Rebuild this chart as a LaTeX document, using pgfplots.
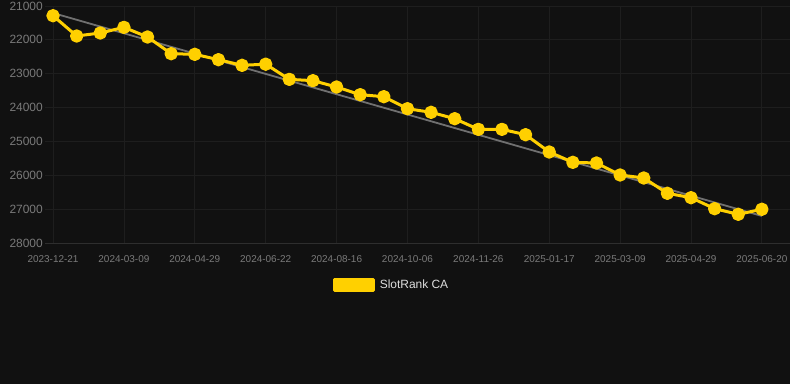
\documentclass[border=0pt]{standalone}
\usepackage{fontspec}
\setmainfont{Liberation Sans}
\usepackage{pgfplots}
\pgfplotsset{compat=1.18}
\definecolor{bg}{HTML}{111111}
\definecolor{gridc}{HTML}{1E1E1E}
\definecolor{axisc}{HTML}{2E2E2E}
\definecolor{tickc}{HTML}{7A7A7A}
\definecolor{yel}{HTML}{FFD000}
\definecolor{trend}{HTML}{707070}
\definecolor{legtext}{HTML}{DDDDDD}
\begin{document}
\begin{tikzpicture}
\fill[bg] (-45bp,-141bp) rectangle (745bp,243bp);
\useasboundingbox (-45bp,-141bp) rectangle (745bp,243bp);
\begin{axis}[
  at={(0,0)}, anchor=south west,
  scale only axis, width=745bp, height=237bp,
  xmin=-0.34, xmax=31.19,
  ymin=21000, ymax=28000, y dir=reverse,
  xtick={0,3,...,30},
  xticklabels={2023-12-21,2024-03-09,2024-04-29,2024-06-22,2024-08-16,2024-10-06,2024-11-26,2025-01-17,2025-03-09,2025-04-29,2025-06-20},
  ytick={21000,22000,...,28000},
  /pgf/number format/assume math mode=true,
  yticklabel={\pgfmathprintnumber[fixed,1000 sep={}]{\tick}},
  scaled y ticks=false,
  major tick length=0pt,
  grid=major,
  major grid style={draw=gridc, line width=0.8bp},
  axis line style={draw=none},
  xticklabel style={font=\fontsize{10}{12}\selectfont, text=tickc, inner sep=0pt, yshift=-12bp},
  yticklabel style={font=\fontsize{12}{14}\selectfont, text=tickc, inner sep=0pt, anchor=east, xshift=-2bp},
  legend style={at={(axis description cs:0.4651,-0.1772)}, anchor=center, draw=none, fill=none,
    text=legtext, font=\fontsize{12}{14}\selectfont, inner sep=0pt},
  legend cell align=left,
  clip=false,
]
\draw[axisc, line width=0.8bp] (axis description cs:0,0) -- (axis description cs:1,0);
\addplot[trend, line width=1.8bp, forget plot] coordinates {(0,21207) (30,27202)};
\addplot[yel, line width=3bp, line join=round, mark=*, mark size=5.2bp, mark options={fill=yel, draw=none, solid},
  legend image code/.code={\fill[yel] (0bp,-5.5bp) rectangle (39bp,5.5bp); \path (42bp,0bp);}]
coordinates {
(0,21286) (1,21886) (2,21797) (3,21630) (4,21915) (5,22408) (6,22427) (7,22585)
(8,22752) (9,22718) (10,23166) (11,23205) (12,23392) (13,23619) (14,23678) (15,24033)
(16,24140) (17,24328) (18,24643) (19,24643) (20,24801) (21,25312) (22,25617) (23,25637)
(24,25991) (25,26080) (26,26532) (27,26661) (28,26986) (29,27152) (30,27004)
};
\addlegendentry{SlotRank CA}
\end{axis}
\end{tikzpicture}
\end{document}
